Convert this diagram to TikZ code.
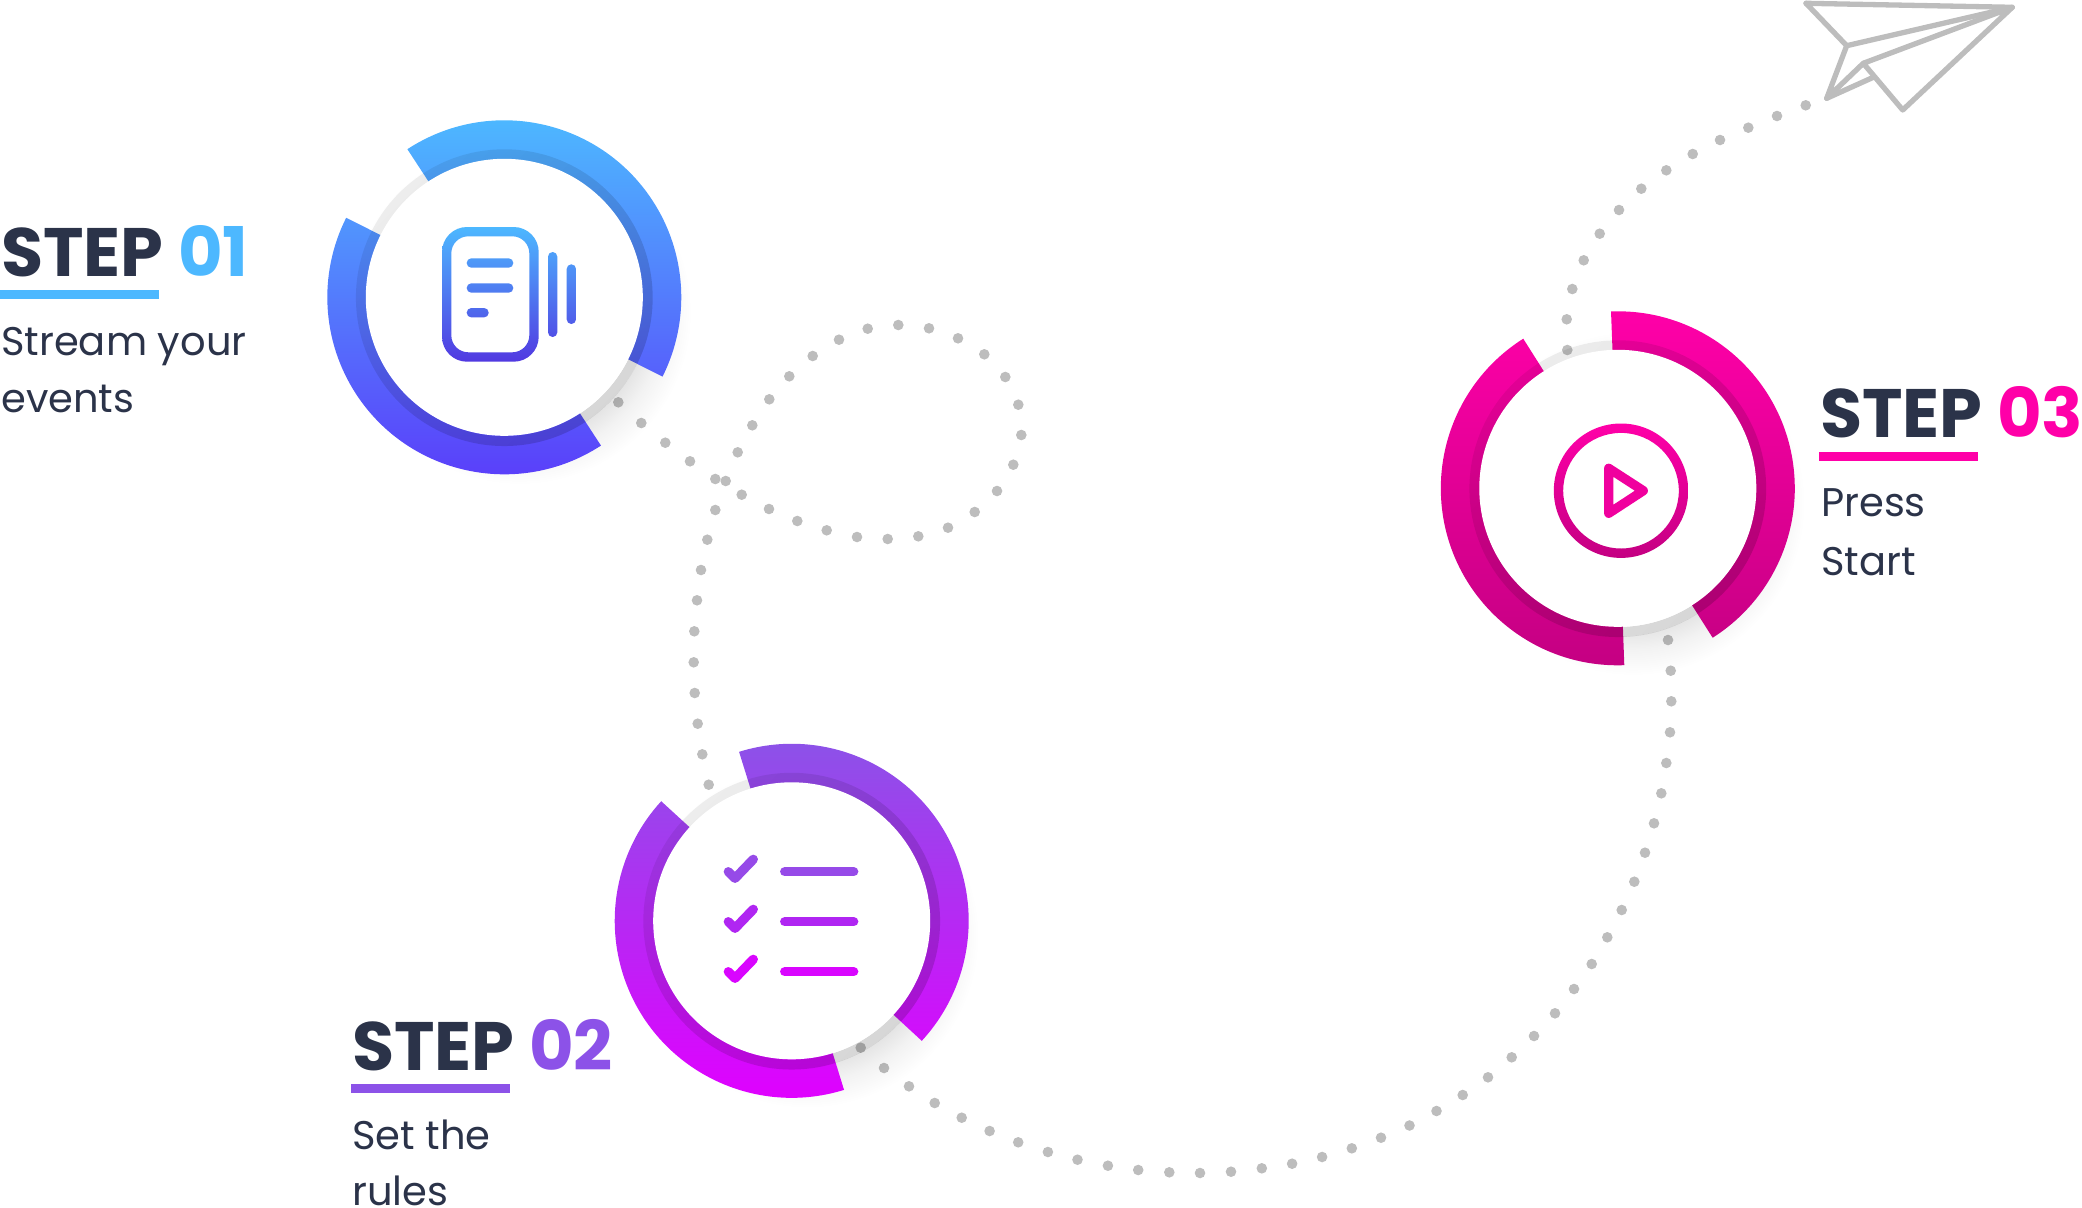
\documentclass[tikz,border=0pt]{standalone}
\usepackage{fontspec}
\setmainfont{Poppins}
\definecolor{stepblue}{HTML}{4DB8FF}
\definecolor{stepblueb}{HTML}{5A3FFA}
\definecolor{steppurple}{HTML}{8C52E8}
\definecolor{steppurpleb}{HTML}{E000FF}
\definecolor{steppink}{HTML}{FF00A8}
\definecolor{steppinkb}{HTML}{C40082}
\definecolor{stepdark}{HTML}{2B3349}
\definecolor{planegrey}{HTML}{BDBDBD}
\usetikzlibrary{
  fadings,
  positioning,
}
\pgfdeclareradialshading{ringshadow}{\pgfpointorigin}{
  color(0bp)=(black!11!white);
  color(18.2bp)=(black!11!white);
  color(21.1bp)=(black!5!white);
  color(25bp)=(white);
  color(50bp)=(white)
}
\pgfdeclareplotmark{dotmark}{\pgfpathcircle{\pgfpointorigin}{\pgfplotmarksize}\pgfusepathqfill}
\tikzfading[name=ringband, top color=transparent!93, bottom color=transparent!84]
\tikzset{
  stephead/.style={anchor=base west, inner sep=0, text=stepdark, font=\bfseries\fontsize{68.5}{68.5}\selectfont},
  stepbody/.style={anchor=base west, inner sep=0, text=stepdark, font=\fontsize{40}{40}\selectfont},
  dotline/.style={color=black, fill=black, fill opacity=.26, mark size=5.3pt},
  planeline/.style={draw=planegrey, line width=5.3pt, line join=round, line cap=round},
  iconline/.style={line width=9.3pt, line cap=round, line join=round},
}

\begin{document}
\begin{tikzpicture}[x=1pt,y=-1pt]
        \useasboundingbox (0,0) rectangle (2082,1207);

        % rings
        \foreach \name/\cx/\cy/\colt/\colb/\a/\b/\c/\d in {
            ringone/504.3/297.3/stepblue/stepblueb/123.2/-26.6/-56.9/-206.7,
            ringtwo/791.7/920.8/steppurple/steppurpleb/107.3/-42.7/-72.8/-222.5,
            ringthree/1617.8/488.3/steppink/steppinkb/92.2/-57.6/-87.9/-237.7}{
          \begin{scope}[shift={(\cx,\cy)},x=1pt,y=1pt]
            \shade[shading=ringshadow] (15,-15) circle (172);
            \fill[white] (0,0) circle (148.5);
            \begin{scope}
              \clip (\a:177) arc[start angle=\a,end angle=\b,radius=177] -- (\b:138) arc[start angle=\b,end angle=\a,radius=138] -- cycle
                    (\c:177) arc[start angle=\c,end angle=\d,radius=177] -- (\d:138) arc[start angle=\d,end angle=\c,radius=138] -- cycle;
              \shade[top color=\colt,bottom color=\colb] (-180,-180) rectangle (180,180);
            \end{scope}
            \fill[black,even odd rule,path fading=ringband,fading angle=45] (0,0) circle (148.5) (0,0) circle (138.5);
            \node[circle,fill=white,minimum size=277pt,inner sep=0] (\name) at (0,0) {};
          \end{scope}
        }

        % dotted tracks
        \coordinate (trackastart) at (618.3,402.3);
        \coordinate (trackaend) at (708.7,784.7);
        \coordinate (trackbstart) at (860.7,1047.7);
        \coordinate (trackbend) at (1668,640);
        \coordinate (trackcstart) at (1567.3,350);
        \coordinate (trackcend) at (1805.7,105.3);
        \draw[dotline] plot[only marks,mark=dotmark] coordinates {(trackastart) (641.3,423) (665.3,442.7) (690,461.3) (715.3,479) (741.7,494.7) (769,509) (797.3,521) (826.7,530.3) (857,537) (887.7,539) (918.3,536.3) (948,527.7) (974.7,512) (997,491) (1013.3,464.7) (1021.3,435) (1018.3,404.7) (1005.3,377) (984.3,354.3) (958,338.3) (929,328.3) (898.3,325) (867.7,328.7) (839,339.7) (812.7,356) (789.3,376.3) (769.3,399.3) (752.3,425.3) (737.7,452.3) (725.7,481) (715.3,510) (707.3,539.7) (701,570) (697,600.3) (694.3,631.3) (693.7,662.3) (694.7,693) (697.7,723.7) (702.3,754.3) (trackaend)};
        \draw[dotline] plot[only marks,mark=dotmark] coordinates {(trackbstart) (884,1068) (909,1086.3) (934.7,1103) (961.7,1117.7) (989.6,1131) (1018.2,1142.3) (1047.9,1152) (1077.5,1159.7) (1107.9,1165.7) (1138.2,1170) (1169.3,1172.3) (1200,1173) (1231,1171.7) (1261.8,1168.3) (1292.1,1163.7) (1322.1,1157) (1351.8,1148.3) (1381,1137.7) (1409.5,1125.5) (1436.5,1111) (1462.7,1095) (1488,1077.3) (1511.7,1057.3) (1534,1036) (1555,1013.3) (1574,989) (1591.7,964) (1607.3,937.3) (1621.7,910) (1634.3,881.7) (1645,852.7) (1654,823.3) (1661.3,793.3) (1666.3,763) (1670,732.3) (1671.3,701.3) (1670.7,670.7) (trackbend)};
        \draw[dotline] plot[only marks,mark=dotmark] coordinates {(trackcstart) (1566.7,319.3) (1572.3,289) (1583.7,260.3) (1599.7,233.7) (1619,210) (1641.3,188.7) (1666.3,170.3) (1692.7,154) (1720,140) (1748.3,127.7) (1777,116) (trackcend)};

        % document icon
        \begin{scope}[even odd rule]
          \clip [rounded corners=25pt] (442,227) rectangle (538.7,361.7)
            [rounded corners=17pt] (451.3,236.3) rectangle (529.3,352.3)
            [rounded corners=4.6pt] (466.7,258.3) rectangle (513.3,267.7)
            (466.7,283.3) rectangle (513.3,292.7)
            (466.7,308) rectangle (488.7,317.4)
            (548,252) rectangle (557.3,337)
            (566.7,264.3) rectangle (576,324);
          \shade[top color=stepblue,bottom color=stepblueb!90!black] (442,227) rectangle (576,361.7);
        \end{scope}

        % checklist icon
        \foreach \rowy/\rowcol in {0/964AE8,50/B026F2,100/D905FF}{
          \definecolor{rowcolor}{HTML}{\rowcol}
          \draw[iconline,draw=rowcolor] (728.3,871.7+\rowy) -- (735,878.3+\rowy) -- (753.3,859.3+\rowy);
          \draw[iconline,draw=rowcolor] (784.7,871.7+\rowy) -- (853.7,871.7+\rowy);
        }

        % play icon
        \begin{scope}[even odd rule]
          \clip (1621,490.7) circle (67.2) (1621,490.7) circle (57.8);
          \shade[top color=steppink,bottom color=steppinkb] (1553.8,423.5) rectangle (1688.2,557.9);
        \end{scope}
        \draw[iconline,draw=steppink!75!steppinkb] (1608.7,468.3) -- (1608.7,513.3) -- (1643.3,490.7) -- cycle;

        % paper plane
        \coordinate (planea) at (1806,3.3);
        \coordinate (planeb) at (2012.3,7.3);
        \coordinate (planec) at (1846.7,45.7);
        \coordinate (planed) at (1826.7,98.3);
        \coordinate (planee) at (1863.3,63.3);
        \coordinate (planef) at (1902.7,110);
        \coordinate (planeg) at (1873.3,77.3);
        \draw[planeline] (planea) -- (planeb) -- (planef) -- (planee) -- (planeb);
        \draw[planeline] (planea) -- (planec) -- (planeb);
        \draw[planeline] (planec) -- (planed) -- (planee);
        \draw[planeline] (planed) -- (planeg);

        % labels
        \node[stephead] (headone) at (1,276) {STEP \textcolor{stepblue}{01}};
        \fill[stepblue] (0,290) rectangle (159,299);
        \node[stepbody] (bodyone) at (1,355) {Stream your};
        \node[stepbody] (bodyoneb) at (1,412.3) {events};

        \node[stephead] (headtwo) at (352,1070) {STEP \textcolor{steppurple}{02}};
        \fill[steppurple] (351,1083.7) rectangle (510.3,1093);
        \node[stepbody] (bodytwo) at (352,1149) {Set the};
        \node[stepbody] (bodytwob) at (352,1205) {rules};

        \node[stephead] (headthree) at (1820,437.7) {STEP \textcolor{steppink}{03}};
        \fill[steppink] (1819,451.7) rectangle (1978.3,460.7);
        \node[stepbody] (bodythree) at (1821,516.7) {Press};
        \node[stepbody] (bodythreeb) at (1821,575) {Start};
    \end{tikzpicture}
\end{document}
